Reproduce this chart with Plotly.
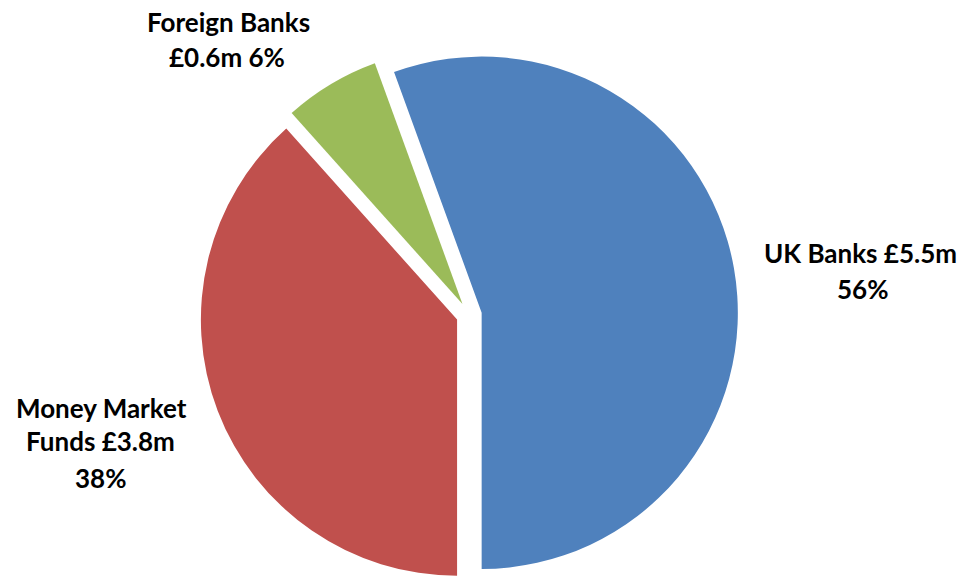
import plotly.graph_objects as go

# Data
categories = ["UK Banks", "Money Market Funds", "Foreign Banks"]
values_m = [5.5, 3.8, 0.6]
colors = ["#4F81BD", "#C0504D", "#9BBB59"]

total = sum(values_m)
pcts = [round(v / total * 100) for v in values_m]

fig = go.Figure()
fig.add_trace(go.Pie(
    labels=categories,
    values=values_m,
    sort=False,
    direction="clockwise",
    rotation=-20,
    pull=[0.05, 0.05, 0.05],
    marker=dict(colors=colors, line=dict(width=0)),
    textinfo="none",
    hoverinfo="label+value+percent",
    showlegend=False,
    domain=dict(x=[0.2073, 0.7648], y=[0.0, 0.925]),
))

# Label lines built from the data
label_lines = [
    [f"{categories[0]} £{values_m[0]}m", f"{pcts[0]}%"],
    ["Money Market", f"Funds £{values_m[1]}m", f"{pcts[1]}%"],
    [categories[2], f"£{values_m[2]}m {pcts[2]}%"],
]
# pixel positions (x center, y center from top) for each line
label_pos = [
    [(860, 253.5), (862, 290)],
    [(101, 408.5), (100, 441.5), (100, 478.5)],
    [(228, 23), (227, 58)],
]

W, H = 965, 586
annotations = []
for lines, poss in zip(label_lines, label_pos):
    for txt, (px, py) in zip(lines, poss):
        annotations.append(dict(
            x=px / W, y=1 - (py - 1) / H, xref="paper", yref="paper",
            text=txt, showarrow=False, xanchor="center", yanchor="middle",
            font=dict(family="Lato", size=26, color="#000000", weight=700),
        ))

fig.update_layout(
    width=W, height=H,
    margin=dict(l=0, r=0, t=0, b=0),
    paper_bgcolor="white",
    plot_bgcolor="white",
    annotations=annotations,
)

fig.write_html("out.html")
